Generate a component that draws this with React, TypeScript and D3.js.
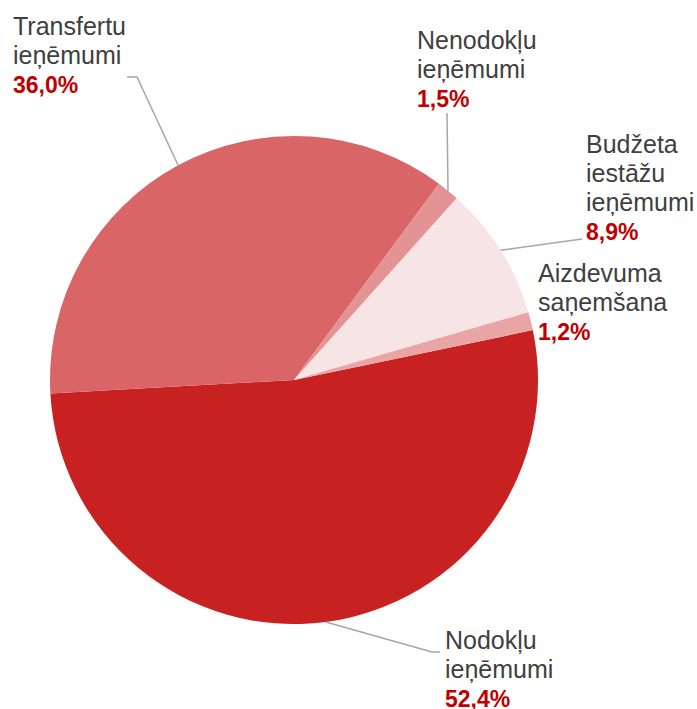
import React, { useEffect, useRef } from 'react';
import * as d3 from 'd3';

// slices in drawing order (clockwise, starting at the right-hand side)
const categories = ['Nodokļu ieņēmumi', 'Transfertu ieņēmumi', 'Nenodokļu ieņēmumi', 'Budžeta iestāžu ieņēmumi', 'Aizdevuma saņemšana'];
const labelLines = [
    ['Nodokļu', 'ieņēmumi'],
    ['Transfertu', 'ieņēmumi'],
    ['Nenodokļu', 'ieņēmumi'],
    ['Budžeta', 'iestāžu', 'ieņēmumi'],
    ['Aizdevuma', 'saņemšana'],
];
const shares = [52.4, 36.0, 1.5, 8.9, 1.2];
const percentLabels = ['52,4%', '36,0%', '1,5%', '8,9%', '1,2%'];
const colors = ['#c82122', '#d96566', '#e39394', '#f7e5e5', '#e9a5a5'];

const WIDTH = 697;
const HEIGHT = 709;
const CX = 294;
const CY = 380;
const R = 244;
const LINE_H = 29;

// where each label block starts (left x, first baseline) and the leader path after the pie edge
const labelPos = [
    { x: 445, y: 649, leader: [[432, 652], [440, 652]] },
    { x: 13, y: 35, leader: [[137, 77], [127, 77]] },
    { x: 417, y: 49, leader: [[447, 113]] },
    { x: 586, y: 153, leader: [[582, 239]] },
    { x: 538, y: 282, leader: [] },
];

export default function App() {
    const ref = useRef<SVGSVGElement>(null);

    useEffect(() => {
        const svg = d3.select(ref.current);
        svg.selectAll('*').remove();

        const data = categories.map((c, i) => ({ name: c, value: shares[i], i }));
        const start = (78.2 * Math.PI) / 180;
        const pie = d3.pie<any>().sort(null).value(d => d.value)
            .startAngle(start).endAngle(start + 2 * Math.PI);
        const arcs = pie(data);
        const arc = d3.arc<any>().innerRadius(0).outerRadius(R);

        const g = svg.append('g').attr('transform', `translate(${CX},${CY})`);
        g.selectAll('path.slice')
            .data(arcs)
            .enter().append('path')
            .attr('class', 'slice')
            .attr('d', arc)
            .attr('fill', d => colors[d.data.i]);

        // leader lines from the slice edge at the mid angle
        arcs.forEach(a => {
            const p = labelPos[a.data.i];
            if (!p.leader.length) return;
            const mid = (a.startAngle + a.endAngle) / 2;
            const sx = CX + R * Math.sin(mid);
            const sy = CY - R * Math.cos(mid);
            const pts: [number, number][] = [[sx, sy], ...(p.leader as [number, number][])];
            svg.append('path')
                .attr('d', d3.line()(pts))
                .attr('fill', 'none')
                .attr('stroke', '#a6a6a6')
                .attr('stroke-width', 1.5);
        });

        // labels
        labelLines.forEach((lines, i) => {
            const p = labelPos[i];
            const t = svg.append('text')
                .attr('font-family', '"Liberation Sans", Arial, sans-serif')
                .attr('font-size', 25);
            lines.forEach((ln, k) => {
                t.append('tspan')
                    .attr('x', p.x)
                    .attr('y', p.y + k * LINE_H)
                    .attr('fill', '#404040')
                    .text(ln);
            });
            t.append('tspan')
                .attr('x', p.x)
                .attr('y', p.y + lines.length * LINE_H)
                .attr('fill', '#c00000')
                .attr('font-weight', 'bold')
                .attr('font-size', 23)
                .text(percentLabels[i]);
        });
    }, []);

    return (
        <svg
            ref={ref}
            width={WIDTH}
            height={HEIGHT}
            style={{ position: 'absolute', left: 0, top: 0, background: '#fff' }}
        />
    );
}
